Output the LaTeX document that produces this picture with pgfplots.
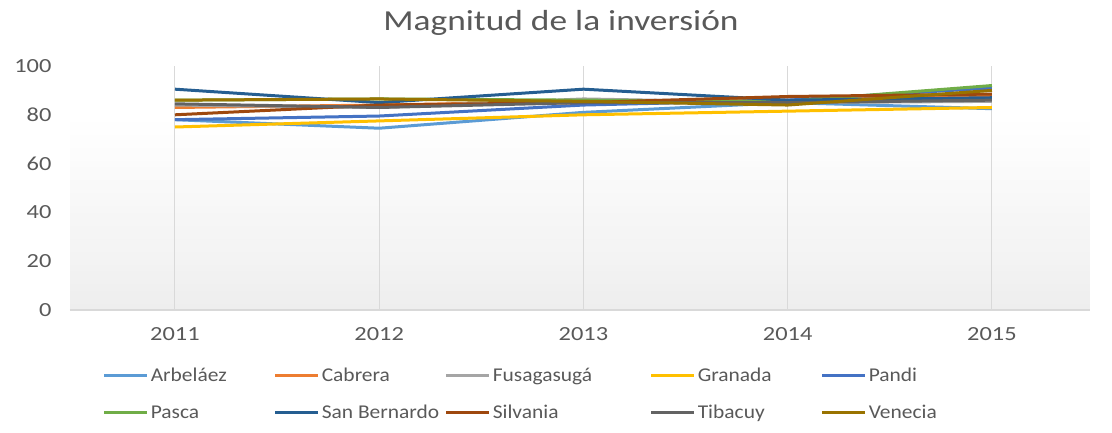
\documentclass[border=0pt]{standalone}
\usepackage{pgfplots}
\pgfplotsset{compat=1.18}
\usepackage{fontspec}
\setmainfont{Carlito}
\definecolor{cA}{HTML}{5B9BD5}
\definecolor{cB}{HTML}{ED7D31}
\definecolor{cC}{HTML}{A5A5A5}
\definecolor{cD}{HTML}{FFC000}
\definecolor{cE}{HTML}{4472C4}
\definecolor{cF}{HTML}{70AD47}
\definecolor{cG}{HTML}{255E91}
\definecolor{cH}{HTML}{9E480E}
\definecolor{cI}{HTML}{636363}
\definecolor{cJ}{HTML}{997300}
\definecolor{txt}{HTML}{595959}
\definecolor{gridc}{HTML}{D9D9D9}
\newcommand{\wide}[1]{\scalebox{1.22}[1]{#1}}
\newcommand{\leg}[2]{\makebox[#1][l]{\scalebox{1.1}[1]{#2}}}
\begin{document}
\begin{tikzpicture}[x=1pt,y=1pt]
\path[use as bounding box] (-70,-122) rectangle (1042,310);
\foreach \i in {0,...,29} {
  \pgfmathsetmacro{\shadeval}{6.5*(1-\i/29)}
  \fill[black!\shadeval] (0,{\i*6.5}) rectangle (1020,{\i*6.5+6.8});
}
\node[text=txt, font=\fontsize{29}{34}\selectfont] at (491,287) {\wide{Magnitud de la inversión}};
\begin{axis}[
  at={(0,0)}, anchor=south west,
  scale only axis, width=1020pt, height=244pt,
  xmin=2010.486, xmax=2015.48, ymin=0, ymax=100,
  xtick={2011,2012,2013,2014,2015},
  ytick={0,20,40,60,80,100},
  tick style={draw=none},
  ticklabel style={text=txt, font=\fontsize{20}{24}\selectfont},
  /pgf/number format/assume math mode=true,
  xticklabels={\wide{2011},\wide{2012},\wide{2013},\wide{2014},\wide{2015}},
  yticklabels={\wide{0},\wide{20},\wide{40},\wide{60},\wide{80},\wide{100}},
  yticklabel style={xshift=-15pt},
  xticklabel style={yshift=-14pt},
  axis x line*=bottom, axis y line*=left,
  x axis line style={draw=none}, y axis line style={draw=none},
  clip=false,
  legend columns=5,
  legend cell align=left,
  legend style={draw=none, fill=none, at={(0.029,-0.222)}, anchor=north west,
    font=\fontsize{19.5}{23}\selectfont, text=txt, column sep=0pt, row sep=18pt},
  legend image code/.code={\draw[#1, line width=3pt] (0pt,0pt) -- (43pt,0pt);},
  every axis plot/.append style={line width=3pt},
]
\draw[gridc, line width=1pt] (axis cs:2011,0) -- (axis cs:2011,100);
\draw[gridc, line width=1pt] (axis cs:2012,0) -- (axis cs:2012,100);
\draw[gridc, line width=1pt] (axis cs:2013,0) -- (axis cs:2013,100);
\draw[gridc, line width=1pt] (axis cs:2014,0) -- (axis cs:2014,100);
\draw[gridc, line width=1pt] (axis cs:2015,0) -- (axis cs:2015,100);
\draw[gridc, line width=1.2pt] (axis cs:2010.486,0) -- (axis cs:2015.48,0);
\addplot[cA] coordinates {(2011,78) (2012,74.5) (2013,81) (2014,85) (2015,82.5)};
\addlegendentry{\leg{121pt}{Arbeláez}}
\addplot[cB] coordinates {(2011,83) (2012,84) (2013,85.5) (2014,86) (2015,88)};
\addlegendentry{\leg{121pt}{Cabrera}}
\addplot[cC] coordinates {(2011,84) (2012,83) (2013,86.5) (2014,85) (2015,85.5)};
\addlegendentry{\leg{155pt}{Fusagasugá}}
\addplot[cD] coordinates {(2011,75) (2012,77.5) (2013,80) (2014,81.5) (2015,83)};
\addlegendentry{\leg{121pt}{Granada}}
\addplot[cE] coordinates {(2011,78) (2012,79.5) (2013,84) (2014,86) (2015,91)};
\addlegendentry{\leg{100pt}{Pandi}}
\addplot[cF] coordinates {(2011,86) (2012,86.5) (2013,86) (2014,85.5) (2015,92)};
\addlegendentry{\leg{121pt}{Pasca}}
\addplot[cG] coordinates {(2011,90.5) (2012,85) (2013,90.5) (2014,86) (2015,87)};
\addlegendentry{\leg{121pt}{San Bernardo}}
\addplot[cH] coordinates {(2011,80) (2012,84) (2013,85) (2014,87.5) (2015,88.5)};
\addlegendentry{\leg{155pt}{Silvania}}
\addplot[cI] coordinates {(2011,84.5) (2012,83) (2013,85) (2014,85) (2015,86)};
\addlegendentry{\leg{121pt}{Tibacuy}}
\addplot[cJ] coordinates {(2011,86) (2012,86.5) (2013,85.5) (2014,84) (2015,90)};
\addlegendentry{\leg{100pt}{Venecia}}
\end{axis}
\end{tikzpicture}
\end{document}
